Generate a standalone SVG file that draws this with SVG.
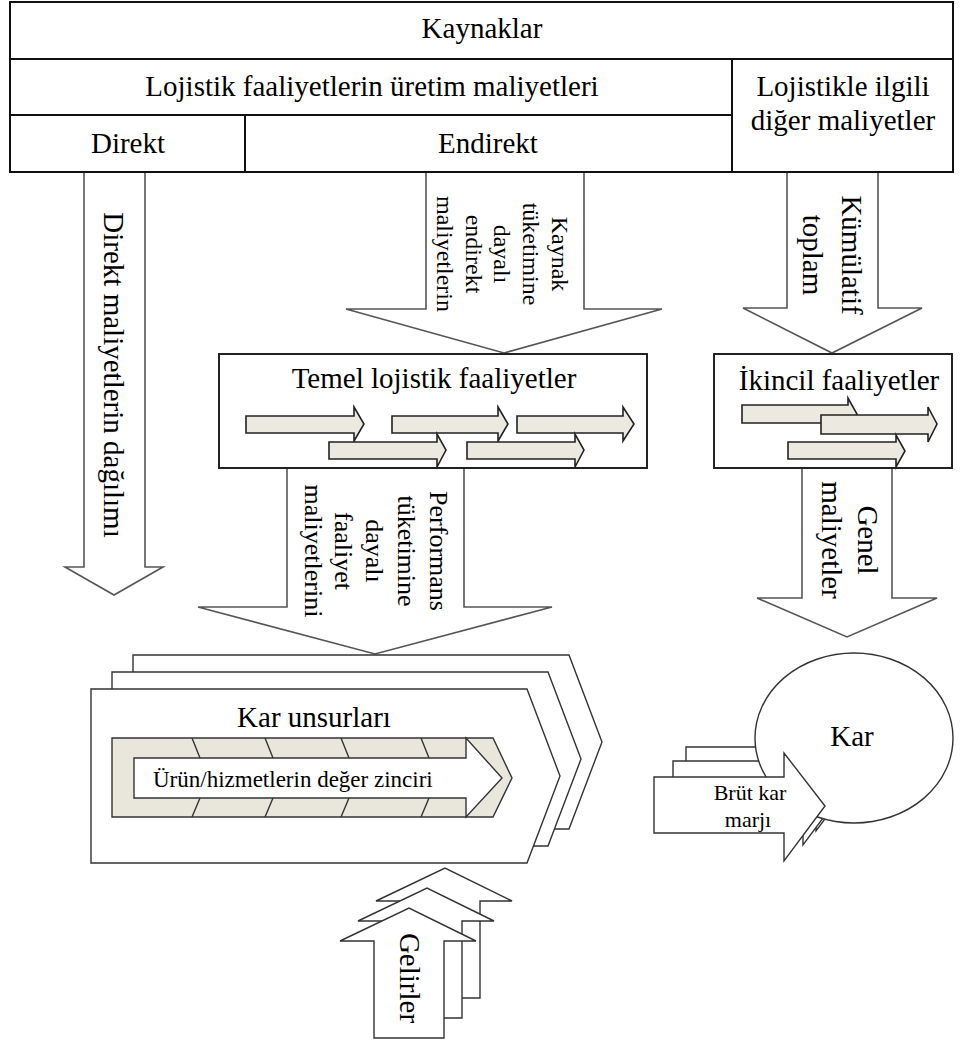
<svg xmlns="http://www.w3.org/2000/svg" width="968" height="1042" viewBox="0 0 968 1042">
  <style>
    .t { font-family: "Liberation Serif", "Times New Roman", serif; fill: #000; }
    .f29 { font-size: 29px; }
    .f26 { font-size: 26px; }
    .f24 { font-size: 24px; }
    .f23 { font-size: 23px; }
    .f22 { font-size: 22px; }
    .mid { text-anchor: middle; }
    .vc { text-anchor: middle; dominant-baseline: central; }
    .grid { fill: none; stroke: #111; stroke-width: 2; }
    .box { fill: #fff; stroke: #222; stroke-width: 2; }
    .big { fill: #fff; stroke: #555; stroke-width: 1.6; stroke-linejoin: miter; }
    .thin { fill: #fff; stroke: #333; stroke-width: 1.4; }
    .step { fill: #ece9e0; stroke: #222; stroke-width: 1.6; }
    .band { fill: #e9e6dc; stroke: #333; stroke-width: 1.4; }
    .seg { stroke: #333; stroke-width: 1.4; fill: none; }
  </style>

  <rect width="968" height="1042" fill="#fff"/>

  <!-- block arrows carrying costs between the levels -->
  <g id="connectors">
    <path id="arrow-direkt" class="big" d="M84,172 L84,567 L65,567 L114,595 L163,567 L145,567 L145,172 Z"/>
    <path id="arrow-endirekt" class="big" d="M426,172 L426,309 L346,309 L504,353 L662,309 L584,309 L584,172 Z"/>
    <path id="arrow-kumulatif" class="big" d="M787,172 L787,308 L743,308 L832,353 L922,308 L878,308 L878,172 Z"/>
    <path id="arrow-performans" class="big" d="M287,468 L287,607 L198,607 L375,654 L552,607 L464,607 L464,468 Z"/>
    <path id="arrow-genel" class="big" d="M802,468 L802,598 L757,598 L847,637 L937,598 L892,598 L892,468 Z"/>

    <text class="t f29 vc" transform="translate(114,375) rotate(90)">Direkt maliyetlerin dağılımı</text>

    <text class="t f24 vc" transform="translate(560,254) rotate(90)">Kaynak</text>
    <text class="t f24 vc" transform="translate(531,254) rotate(90)">tüketimine</text>
    <text class="t f24 vc" transform="translate(502,254) rotate(90)">dayalı</text>
    <text class="t f24 vc" transform="translate(474,254) rotate(90)">endirekt</text>
    <text class="t f24 vc" transform="translate(445,254) rotate(90)">maliyetlerin</text>

    <text class="t f29 vc" transform="translate(852,255) rotate(90)">Kümülatif</text>
    <text class="t f29 vc" transform="translate(813,255) rotate(90)">toplam</text>

    <text class="t f26 vc" transform="translate(438,551) rotate(90)">Performans</text>
    <text class="t f26 vc" transform="translate(406,551) rotate(90)">tüketimine</text>
    <text class="t f26 vc" transform="translate(374,551) rotate(90)">dayalı</text>
    <text class="t f26 vc" transform="translate(343,551) rotate(90)">faaliyet</text>
    <text class="t f26 vc" transform="translate(313,551) rotate(90)">maliyetlerini</text>

    <text class="t f29 vc" transform="translate(868,540) rotate(90)">Genel</text>
    <text class="t f29 vc" transform="translate(832,540) rotate(90)">maliyetler</text>
  </g>

  <!-- resource / cost table -->
  <g id="kaynaklar">
    <rect class="grid" x="10" y="2" width="943" height="170"/>
    <line class="grid" x1="10" y1="59" x2="953" y2="59"/>
    <line class="grid" x1="10" y1="115" x2="732" y2="115"/>
    <line class="grid" x1="732" y1="59" x2="732" y2="172"/>
    <line class="grid" x1="245" y1="115" x2="245" y2="172"/>
    <text class="t f29 mid" x="482" y="38">Kaynaklar</text>
    <text class="t f29 mid" x="372" y="96">Lojistik faaliyetlerin üretim maliyetleri</text>
    <text class="t f29 mid" x="843" y="96">Lojistikle ilgili</text>
    <text class="t f29 mid" x="843" y="130">diğer maliyetler</text>
    <text class="t f29 mid" x="128" y="153">Direkt</text>
    <text class="t f29 mid" x="488" y="153">Endirekt</text>
  </g>

  <!-- primary logistics activities -->
  <g id="temel-lojistik">
    <rect class="box" x="219" y="354" width="428" height="114"/>
    <text class="t f29 mid" x="434" y="388">Temel lojistik faaliyetler</text>
    <path class="step" d="M246,416 L354,416 L354,407 L364,424 L354,441 L354,433 L246,433 Z"/>
    <path class="step" d="M392,416 L498,416 L498,407 L508,424 L498,441 L498,433 L392,433 Z"/>
    <path class="step" d="M517,416 L623,416 L623,407 L634,424 L623,441 L623,433 L517,433 Z"/>
    <path class="step" d="M329,442 L437,442 L437,434 L446,450 L437,467 L437,459 L329,459 Z"/>
    <path class="step" d="M467,442 L575,442 L575,434 L584,450 L575,467 L575,459 L467,459 Z"/>
  </g>

  <!-- secondary activities -->
  <g id="ikincil">
    <rect class="box" x="714" y="354" width="238" height="114"/>
    <text class="t f29 mid" x="839" y="390">İkincil faaliyetler</text>
    <path class="step" d="M742,405 L848,405 L848,398 L857,414 L848,430 L848,423 L742,423 Z"/>
    <path class="step" d="M821,415 L928,415 L928,407 L937,424 L928,442 L928,434 L821,434 Z"/>
    <path class="step" d="M788,442 L896,442 L896,435 L905,451 L896,467 L896,459 L788,459 Z"/>
  </g>

  <!-- profit elements with the value chain -->
  <g id="kar-unsurlari">
    <path class="thin" d="M133,655 L569,655 L602,742 L569,829 L133,829 Z"/>
    <path class="thin" d="M112,672 L548,672 L581,759 L548,846 L112,846 Z"/>
    <path class="thin" d="M91,689 L527,689 L560,776 L527,863 L91,863 Z"/>
    <text class="t f29 mid" x="314" y="727">Kar unsurları</text>
    <path class="band" d="M112,738 L493,738 L512,778 L493,817 L112,817 Z"/>
    <path class="thin" d="M134,758 L466,758 L466,738 L502,778 L466,817 L466,798 L134,798 Z"/>
    <path class="seg" d="M192,738 L200,758 M265,738 L273,758 M341,738 L349,758 M421,738 L429,758
                         M200,798 L192,817 M273,798 L265,817 M349,798 L341,817 M429,798 L421,817"/>
    <text class="t f23" x="153" y="787">Ürün/hizmetlerin değer zinciri</text>
  </g>

  <!-- gross margin feeding the profit -->
  <g id="brut-kar-marji">
    <path class="thin" d="M686,747 L816,747 L816,723 L857,776 L816,831 L816,803 L686,803 Z"/>
    <path class="thin" d="M673,761 L803,761 L803,737 L844,790 L803,845 L803,817 L673,817 Z"/>
  </g>

  <g id="kar">
    <ellipse class="thin" cx="854" cy="738" rx="99" ry="85"/>
    <text class="t f29 mid" x="852" y="746">Kar</text>
  </g>

  <g id="brut-kar-marji-front">
    <path class="thin" d="M654,777 L784,777 L784,753 L825,806 L784,861 L784,833 L654,833 Z"/>
    <text class="t f22 mid" x="750" y="800">Brüt kar</text>
    <text class="t f22 mid" x="748" y="827">marjı</text>
  </g>

  <!-- revenues -->
  <g id="gelirler">
    <path class="thin" d="M410,998 L410,901 L376,901 L445,868 L512,901 L480,901 L480,998 Z"/>
    <path class="thin" d="M392,1018 L392,921 L358,921 L427,888 L494,921 L462,921 L462,1018 Z"/>
    <path class="thin" d="M374,1038 L374,941 L340,941 L409,908 L476,941 L444,941 L444,1038 Z"/>
    <text class="t f29 vc" transform="translate(410,978) rotate(90)">Gelirler</text>
  </g>
</svg>
